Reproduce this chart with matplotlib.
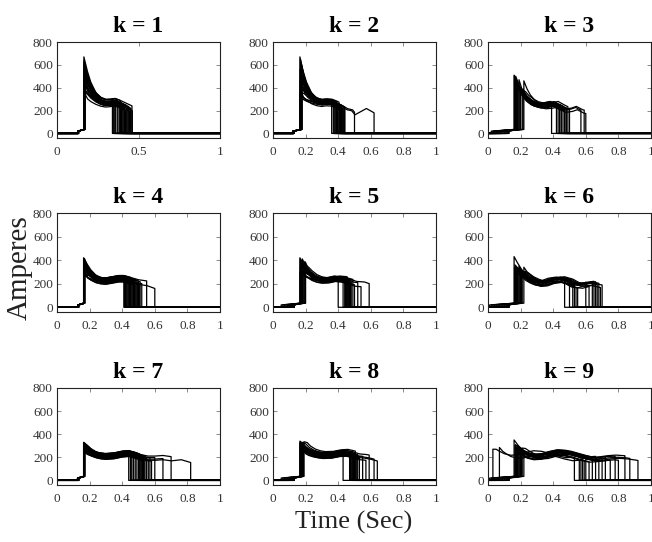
import numpy as np
import matplotlib
matplotlib.use("Agg")
import matplotlib.pyplot as plt

plt.rcParams['font.family'] = ['Liberation Serif', 'DejaVu Serif']

titles = ['k = 1', 'k = 2', 'k = 3', 'k = 4', 'k = 5', 'k = 6', 'k = 7', 'k = 8', 'k = 9']
y_ticks = [0, 200, 400, 600, 800]
x_ticks_first = [0, 0.5, 1]
x_labels_first = ['0', '0.5', '1']
x_ticks = [0, 0.2, 0.4, 0.6, 0.8, 1]
x_labels = ['0', '0.2', '0.4', '0.6', '0.8', '1']

# small pre-charge step before the main jump (Amperes)
step_lo, step_hi = 20, 35
# share of the peak overshoot still left vs time since the jump (Sec)
decay_dt = [0, 0.02, 0.04, 0.07, 0.10, 0.14]
decay_w = [1.0, 0.65, 0.42, 0.2, 0.1, 0.05]

# mean current shape after the jump, one per panel (time, Amperes)
shape_t = [
    [0.168, 0.19, 0.21, 0.24, 0.27, 0.30, 0.33, 0.355, 0.38, 0.41, 0.44, 0.47],
    [0.17, 0.19, 0.21, 0.24, 0.27, 0.30, 0.33, 0.36, 0.39, 0.42, 0.45, 0.48, 0.50, 0.57, 0.62],
    [0.17, 0.19, 0.21, 0.24, 0.27, 0.31, 0.35, 0.39, 0.43, 0.47, 0.51, 0.54, 0.58, 0.62],
    [0.166, 0.19, 0.21, 0.24, 0.27, 0.30, 0.34, 0.38, 0.41, 0.45, 0.50, 0.55, 0.60],
    [0.17, 0.19, 0.21, 0.24, 0.27, 0.30, 0.34, 0.38, 0.42, 0.46, 0.50, 0.55, 0.59],
    [0.17, 0.19, 0.21, 0.24, 0.27, 0.30, 0.34, 0.38, 0.43, 0.48, 0.52, 0.56, 0.60, 0.64, 0.68, 0.72],
    [0.166, 0.19, 0.21, 0.24, 0.27, 0.30, 0.35, 0.40, 0.44, 0.48, 0.52, 0.56, 0.60, 0.65, 0.70, 0.76, 0.82],
    [0.17, 0.19, 0.21, 0.24, 0.27, 0.30, 0.35, 0.40, 0.44, 0.48, 0.52, 0.56, 0.60, 0.64],
    [0.17, 0.19, 0.21, 0.24, 0.28, 0.32, 0.37, 0.42, 0.47, 0.52, 0.57, 0.62, 0.67, 0.72, 0.77, 0.82, 0.87, 0.93],
]
shape_i = [
    [345, 320, 300, 280, 265, 258, 262, 268, 255, 235, 215, 195],
    [300, 290, 280, 270, 262, 258, 265, 262, 245, 225, 200, 190, 155, 210, 170],
    [300, 290, 275, 260, 245, 235, 240, 252, 220, 192, 200, 215, 185, 175],
    [265, 250, 240, 228, 222, 220, 230, 240, 240, 225, 205, 195, 170],
    [280, 265, 255, 240, 230, 225, 228, 240, 235, 220, 200, 195, 175],
    [300, 280, 265, 235, 215, 200, 205, 225, 235, 215, 185, 180, 195, 200, 185, 175],
    [250, 235, 225, 215, 208, 205, 210, 225, 230, 215, 195, 185, 185, 190, 180, 190, 165],
    [270, 255, 240, 228, 220, 215, 218, 232, 235, 222, 205, 200, 190, 175],
    [240, 235, 225, 210, 200, 205, 225, 240, 235, 215, 195, 180, 185, 195, 200, 195, 185, 170],
]

# one entry per trace: start of pre-charge, jump time, peak, switch-off time, plateau offset
on_times = [
    [0.128, 0.130, 0.132, 0.129, 0.131, 0.133, 0.127, 0.130, 0.132, 0.128, 0.131, 0.129,
     0.130, 0.133, 0.128, 0.131, 0.130, 0.129, 0.132, 0.130, 0.128, 0.131, 0.129, 0.130],
    [0.120, 0.125, 0.128, 0.122, 0.130, 0.126, 0.124, 0.129, 0.121, 0.127, 0.125,
     0.130, 0.123, 0.128, 0.126, 0.124, 0.129, 0.122, 0.127, 0.125, 0.128, 0.124],
    [0.02, 0.03, 0.04, 0.05, 0.06, 0.07, 0.08, 0.09, 0.10, 0.11, 0.12, 0.13, 0.125, 0.115, 0.035, 0.055],
    [0.130, 0.132, 0.131, 0.133, 0.130, 0.129, 0.132, 0.131, 0.130, 0.133, 0.131, 0.130,
     0.132, 0.129, 0.131, 0.130, 0.132, 0.131, 0.130, 0.133, 0.129, 0.131, 0.130, 0.132],
    [0.05, 0.06, 0.07, 0.08, 0.09, 0.10, 0.11, 0.12, 0.13, 0.125, 0.13, 0.115,
     0.13, 0.128, 0.13, 0.105, 0.13, 0.095],
    [0.01, 0.02, 0.03, 0.04, 0.05, 0.06, 0.07, 0.08, 0.09, 0.10, 0.11, 0.12, 0.13, 0.13, 0.125, 0.115],
    [0.125, 0.128, 0.130, 0.132, 0.135, 0.127, 0.129, 0.131, 0.133, 0.126, 0.130, 0.132,
     0.128, 0.134, 0.130, 0.127, 0.131, 0.129, 0.133, 0.130, 0.128, 0.131, 0.129, 0.130],
    [0.05, 0.06, 0.07, 0.08, 0.09, 0.10, 0.11, 0.12, 0.13, 0.13, 0.125, 0.13,
     0.128, 0.13, 0.115, 0.105, 0.13, 0.127, 0.13, 0.095],
    [0.03, 0.07, 0.01, 0.02, 0.04, 0.05, 0.06, 0.08, 0.09, 0.10, 0.11, 0.12,
     0.13, 0.13, 0.125, 0.115, 0.03, 0.06],
]
jump_times = [
    [0.165, 0.166, 0.168, 0.167, 0.169, 0.170, 0.165, 0.167, 0.168, 0.166, 0.170, 0.171,
     0.167, 0.168, 0.166, 0.169, 0.172, 0.165, 0.168, 0.167, 0.170, 0.166, 0.169, 0.168],
    [0.165, 0.168, 0.170, 0.172, 0.175, 0.166, 0.169, 0.171, 0.173, 0.178, 0.167,
     0.170, 0.174, 0.176, 0.168, 0.172, 0.165, 0.169, 0.171, 0.175, 0.178, 0.173],
    [0.160, 0.165, 0.170, 0.175, 0.180, 0.185, 0.190, 0.200, 0.210, 0.220, 0.168, 0.172,
     0.178, 0.195, 0.215, 0.162],
    [0.163, 0.165, 0.166, 0.168, 0.170, 0.164, 0.167, 0.169, 0.165, 0.166, 0.168, 0.170,
     0.164, 0.167, 0.165, 0.169, 0.166, 0.168, 0.165, 0.167, 0.170, 0.164, 0.166, 0.168],
    [0.165, 0.170, 0.175, 0.180, 0.190, 0.200, 0.168, 0.172, 0.166, 0.178, 0.185, 0.195,
     0.167, 0.170, 0.173, 0.182, 0.169, 0.198],
    [0.160, 0.165, 0.170, 0.175, 0.180, 0.185, 0.190, 0.200, 0.210, 0.220, 0.168, 0.172,
     0.163, 0.178, 0.195, 0.205],
    [0.163, 0.165, 0.166, 0.168, 0.170, 0.164, 0.167, 0.169, 0.165, 0.166, 0.168, 0.170,
     0.164, 0.167, 0.165, 0.169, 0.166, 0.168, 0.165, 0.167, 0.170, 0.164, 0.166, 0.168],
    [0.165, 0.168, 0.170, 0.172, 0.175, 0.178, 0.180, 0.185, 0.190, 0.166, 0.169, 0.171,
     0.174, 0.176, 0.179, 0.182, 0.167, 0.170, 0.173, 0.188],
    [0.030, 0.070, 0.160, 0.165, 0.170, 0.170, 0.175, 0.180, 0.180, 0.190, 0.200, 0.210,
     0.220, 0.168, 0.172, 0.185, 0.195, 0.205],
]
peaks = [
    [670, 640, 610, 590, 560, 540, 520, 500, 480, 460, 440, 420,
     400, 380, 360, 350, 600, 550, 500, 450, 420, 620, 580, 530],
    [670, 650, 620, 600, 580, 560, 540, 520, 500, 480, 460,
     440, 420, 400, 380, 360, 340, 320, 300, 600, 450, 520],
    [510, 480, 500, 460, 440, 420, 470, 400, 380, 460, 490, 430, 450, 410, 390, 505],
    [420, 400, 380, 360, 340, 320, 300, 280, 260, 410, 390, 370,
     350, 330, 310, 290, 270, 415, 395, 375, 355, 335, 300, 280],
    [420, 400, 380, 410, 390, 360, 340, 320, 300, 280, 370, 350,
     410, 395, 330, 310, 290, 385],
    [430, 360, 350, 340, 330, 320, 350, 310, 300, 340, 355, 345, 335, 325, 315, 305],
    [330, 320, 310, 300, 290, 280, 270, 260, 250, 240, 325, 315,
     305, 295, 285, 275, 265, 255, 245, 310, 300, 290, 280, 270],
    [340, 330, 320, 310, 300, 290, 280, 270, 335, 325, 315, 305,
     295, 285, 275, 330, 320, 310, 300, 290],
    [270, 285, 350, 300, 290, 280, 270, 300, 260, 290, 250, 280,
     240, 310, 270, 260, 250, 240],
]
end_times = [
    [0.340, 0.345, 0.350, 0.355, 0.360, 0.370, 0.380, 0.385, 0.390, 0.395, 0.400, 0.405,
     0.410, 0.415, 0.420, 0.425, 0.430, 0.435, 0.440, 0.445, 0.450, 0.455, 0.460, 0.462],
    [0.360, 0.370, 0.375, 0.380, 0.385, 0.390, 0.395, 0.400, 0.405, 0.410, 0.415,
     0.420, 0.425, 0.430, 0.435, 0.440, 0.440, 0.430, 0.420, 0.410, 0.500, 0.620],
    [0.390, 0.420, 0.430, 0.440, 0.450, 0.460, 0.470, 0.480, 0.490, 0.500, 0.570, 0.590,
     0.600, 0.440, 0.470, 0.480],
    [0.410, 0.415, 0.420, 0.425, 0.430, 0.435, 0.440, 0.445, 0.450, 0.455, 0.460, 0.465,
     0.470, 0.475, 0.480, 0.485, 0.490, 0.495, 0.500, 0.505, 0.510, 0.520, 0.550, 0.600],
    [0.400, 0.430, 0.440, 0.445, 0.450, 0.455, 0.460, 0.465, 0.470, 0.475, 0.480, 0.490,
     0.500, 0.520, 0.540, 0.590, 0.460, 0.470],
    [0.470, 0.500, 0.520, 0.530, 0.550, 0.600, 0.620, 0.640, 0.650, 0.660, 0.670, 0.680,
     0.690, 0.700, 0.540, 0.660],
    [0.440, 0.450, 0.455, 0.460, 0.470, 0.480, 0.490, 0.500, 0.505, 0.510, 0.515, 0.520,
     0.525, 0.530, 0.535, 0.540, 0.550, 0.560, 0.570, 0.580, 0.600, 0.650, 0.700, 0.820],
    [0.430, 0.470, 0.475, 0.480, 0.485, 0.490, 0.495, 0.500, 0.505, 0.510, 0.515, 0.520,
     0.530, 0.550, 0.570, 0.590, 0.620, 0.640, 0.490, 0.500],
    [0.530, 0.560, 0.570, 0.580, 0.590, 0.600, 0.620, 0.640, 0.660, 0.680, 0.700, 0.720,
     0.750, 0.780, 0.800, 0.840, 0.870, 0.920],
]
bands = [
    [18, -10, 6, 0, -18, 24, -24, 10, 30, -6, 3, 15, -15, 6, -28, 21, 0, -9, 12, -21, 9, -3, 27, -12],
    [15, -8, 8, 0, -15, 22, -22, 8, 27, -8, 3, 15, -15, 8, -27, 18, 0, -9, 12, -18, 9, -3],
    [15, -12, 6, 0, -18, 21, -21, 9, 24, -6, 3, 15, -15, 6, -24, 18],
    [18, -10, 6, 0, -18, 24, -24, 10, 30, -6, 3, 15, -15, 6, -28, 21, 0, -9, 12, -21, 9, -3, 27, -12],
    [15, -12, 6, 0, -18, 21, -21, 9, 24, -6, 3, 15, -15, 6, -24, 18, 0, -9],
    [15, -12, 6, 0, -18, 21, -21, 9, 24, -6, 3, 15, -15, 6, -24, 18],
    [20, -10, 6, 0, -18, 25, -22, 10, 28, -6, 3, 15, -15, 6, -25, 22, 0, -10, 12, -20, 10, -3, 24, -12],
    [18, -10, 6, 0, -18, 24, -24, 10, 30, -6, 3, 15, -15, 6, -26, 21, 0, -9, 12, -21],
    [15, -12, 6, 0, -18, 21, -21, 9, 24, -6, 3, 15, -15, 6, -24, 18, 0, -9],
]


def build_trace(on, jump, peak, end, band, st, si):
    """Polyline through the key points of one current trace."""
    t_s = np.array(st) + (jump - st[0])
    vals = np.array(si, dtype=float)
    vals = vals + (peak - vals[0]) * np.interp(t_s - jump, decay_dt, decay_w)
    vals[1:] += band
    keep = t_s < end
    t = [0.0, on]
    y = [0.0, 0.0]
    if on < jump:
        t += [on, jump]
        y += [step_lo, step_hi]
    t += list(t_s[keep])
    y += list(vals[keep])
    y_end = np.interp(end, t_s, vals)
    t += [end, end, 1.0]
    y += [y_end, 0.0, 0.0]
    return t, y


W, H = 652, 542
cols_left = [57, 273, 488]
col_width = 163
rows_top = [42, 213, 388]
row_height = [96, 99, 97]

fig = plt.figure(figsize=(W / 100, H / 100), dpi=100)

for k in range(9):
    r, c = divmod(k, 3)
    ax = fig.add_axes([cols_left[c] / W, 1 - (rows_top[r] + row_height[r]) / H,
                       col_width / W, row_height[r] / H])
    lists = [on_times[k], jump_times[k], peaks[k], end_times[k], bands[k]]
    assert len(set(len(x) for x in lists)) == 1, k
    for on, jump, peak, end, band in zip(*lists):
        t, y = build_trace(on, jump, peak, end, band, shape_t[k], shape_i[k])
        ax.plot(t, y, color='black', lw=0.9)

    ax.set_xlim(0, 1)
    ax.set_ylim(-40, 800)
    if k == 0:
        ax.set_xticks(x_ticks_first)
        ax.set_xticklabels(x_labels_first)
    else:
        ax.set_xticks(x_ticks)
        ax.set_xticklabels(x_labels)
    ax.set_yticks(y_ticks)
    ax.tick_params(direction='in', top=True, right=True, length=3, width=0.6,
                   color='#777777', labelcolor='#333333', labelsize=9.5)
    ax.tick_params(axis='x', pad=6)
    ax.tick_params(axis='y', pad=3)
    for sp in ax.spines.values():
        sp.set_linewidth(0.8)
        sp.set_color('#222222')
    ax.set_title(titles[k], fontsize=17, fontweight='bold', pad=7)

fig.text(20 / W, 1 - 268 / H, 'Amperes', rotation=90, fontsize=21,
         ha='center', va='center', color='#222222')
fig.text(354 / W, 1 - 522 / H, 'Time (Sec)', fontsize=19,
         ha='center', va='center', color='#222222')

fig.savefig('out.png', dpi=100)
